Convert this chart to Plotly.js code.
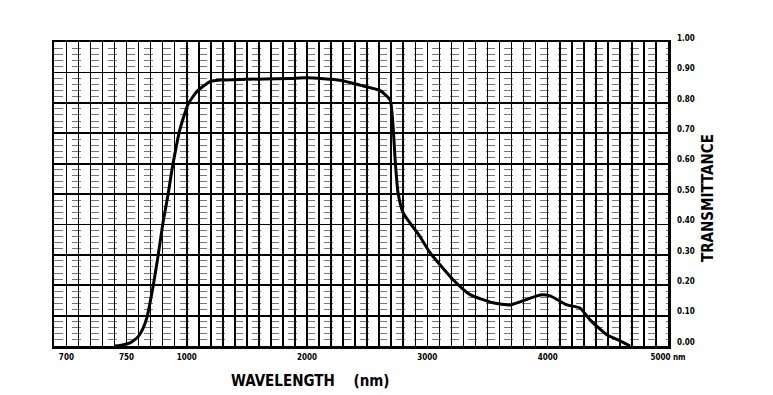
<!DOCTYPE html>
<html>
<head>
<meta charset="utf-8">
<script src="https://cdn.plot.ly/plotly-3.0.1.min.js"></script>
<style>html,body{margin:0;padding:0;background:#fff;}#chart{width:773px;height:395px;}</style>
</head>
<body>
<div id="chart"></div>
<script>
// Chart-scale positions along the wavelength axis (below 1000 nm the chart scale is compressed)
const curveX = [404, 445, 529, 595, 637, 670, 720, 761, 803, 845, 878, 944, 1011, 1086, 1194, 1293, 1443, 1859, 2000, 2274, 2441, 2607, 2690, 2715, 2732, 2756, 2798, 2939, 3022, 3214, 3355, 3546, 3687, 3771, 3937, 4020, 4161, 4269, 4352, 4494, 4602, 4685];
const transmittance = [0.0, 0.002, 0.01, 0.03, 0.058, 0.095, 0.195, 0.294, 0.406, 0.498, 0.581, 0.713, 0.795, 0.838, 0.87, 0.875, 0.877, 0.88, 0.882, 0.874, 0.858, 0.84, 0.81, 0.723, 0.614, 0.505, 0.439, 0.36, 0.307, 0.218, 0.169, 0.142, 0.135, 0.145, 0.168, 0.165, 0.135, 0.125, 0.086, 0.036, 0.017, 0.0];
const xTickPos = [0, 500, 1000, 2000, 3000, 4000, 5000];
const xTickText = ["700", "750", "1000", "2000", "3000", "4000", "5000 nm"];
const yTickVals = [0, 0.1, 0.2, 0.3, 0.4, 0.5, 0.6, 0.7, 0.8, 0.9, 1.0];
const yTickText = ["0.00", "0.10", "0.20", "0.30", "0.40", "0.50", "0.60", "0.70", "0.80", "0.90", "1.00"];
const yMinorVals = [0.02,0.04,0.06,0.08,0.12,0.14,0.16,0.18,0.22,0.24,0.26,0.28,0.32,0.34,0.36,0.38,0.42,0.44,0.46,0.48,0.52,0.54,0.56,0.58,0.62,0.64,0.66,0.68,0.72,0.74,0.76,0.78,0.82,0.84,0.86,0.88,0.92,0.94,0.96,0.98];
const xTitle = "WAVELENGTH\u00a0\u00a0\u00a0\u00a0(nm)";
const yTitle = "TRANSMITTANCE";

const xRange = [-103, 5000];
const tickFont = {family: "DejaVu Sans Condensed, sans-serif", size: 8, color: "#000", weight: 700};
const titleFont = {family: "DejaVu Sans Condensed, sans-serif", size: 15, color: "#000", weight: 700};

const traces = [{
  x: curveX, y: transmittance, type: "scatter", mode: "lines",
  line: {color: "#000", width: 3, shape: "spline", smoothing: 0.5},
  hoverinfo: "skip", showlegend: false
}, {
  x: [xRange[0]], y: [0], xaxis: "x2", type: "scatter", mode: "markers",
  marker: {opacity: 0}, hoverinfo: "skip", showlegend: false
}, {
  x: [xRange[0]], y: [0], yaxis: "y2", type: "scatter", mode: "markers",
  marker: {opacity: 0}, hoverinfo: "skip", showlegend: false
}];

const layout = {
  width: 773, height: 395,
  margin: {l: 54, r: 105, t: 42, b: 49},
  paper_bgcolor: "#fff", plot_bgcolor: "#fff",
  showlegend: false,
  xaxis: {
    range: xRange, tickmode: "array", tickvals: xTickPos, ticktext: xTickText,
    showgrid: false, zeroline: false, showline: true, mirror: true,
    linecolor: "#000", linewidth: 2.5, ticks: "", tickfont: tickFont,
    ticklabelstandoff: 2
  },
  xaxis2: {
    range: xRange, overlaying: "x", side: "bottom", tickmode: "linear",
    tick0: 0, dtick: 100, showgrid: true, gridcolor: "#000", gridwidth: 1.6,
    showticklabels: false, ticks: "", zeroline: false, showline: false
  },
  yaxis2: {
    range: [0, 1], overlaying: "y", side: "left", tickmode: "array", tickvals: yMinorVals,
    showgrid: true, gridcolor: "#777", gridwidth: 1, griddash: "dash",
    showticklabels: false, ticks: "", zeroline: false, showline: false
  },
  yaxis: {
    range: [0, 1], side: "right", tickmode: "array", tickvals: yTickVals, ticktext: yTickText,
    showgrid: true, gridcolor: "#000", gridwidth: 1.8, zeroline: false,
    showline: true, mirror: true, linecolor: "#000", linewidth: 2.5,
    ticks: "", tickfont: tickFont, ticklabelstandoff: 5, ticklabelshift: -4
  },
  annotations: [{
    text: xTitle, xref: "paper", yref: "paper", x: (310 - 54) / 614, y: -0.115,
    xanchor: "center", yanchor: "middle", showarrow: false, font: titleFont
  }, {
    text: yTitle, xref: "paper", yref: "paper", x: (708 - 54) / 614, y: (346 - 198) / 304,
    xanchor: "center", yanchor: "middle", showarrow: false, textangle: -90, font: titleFont
  }]
};

Plotly.newPlot("chart", traces, layout, {staticPlot: true, displayModeBar: false});
</script>
</body>
</html>
